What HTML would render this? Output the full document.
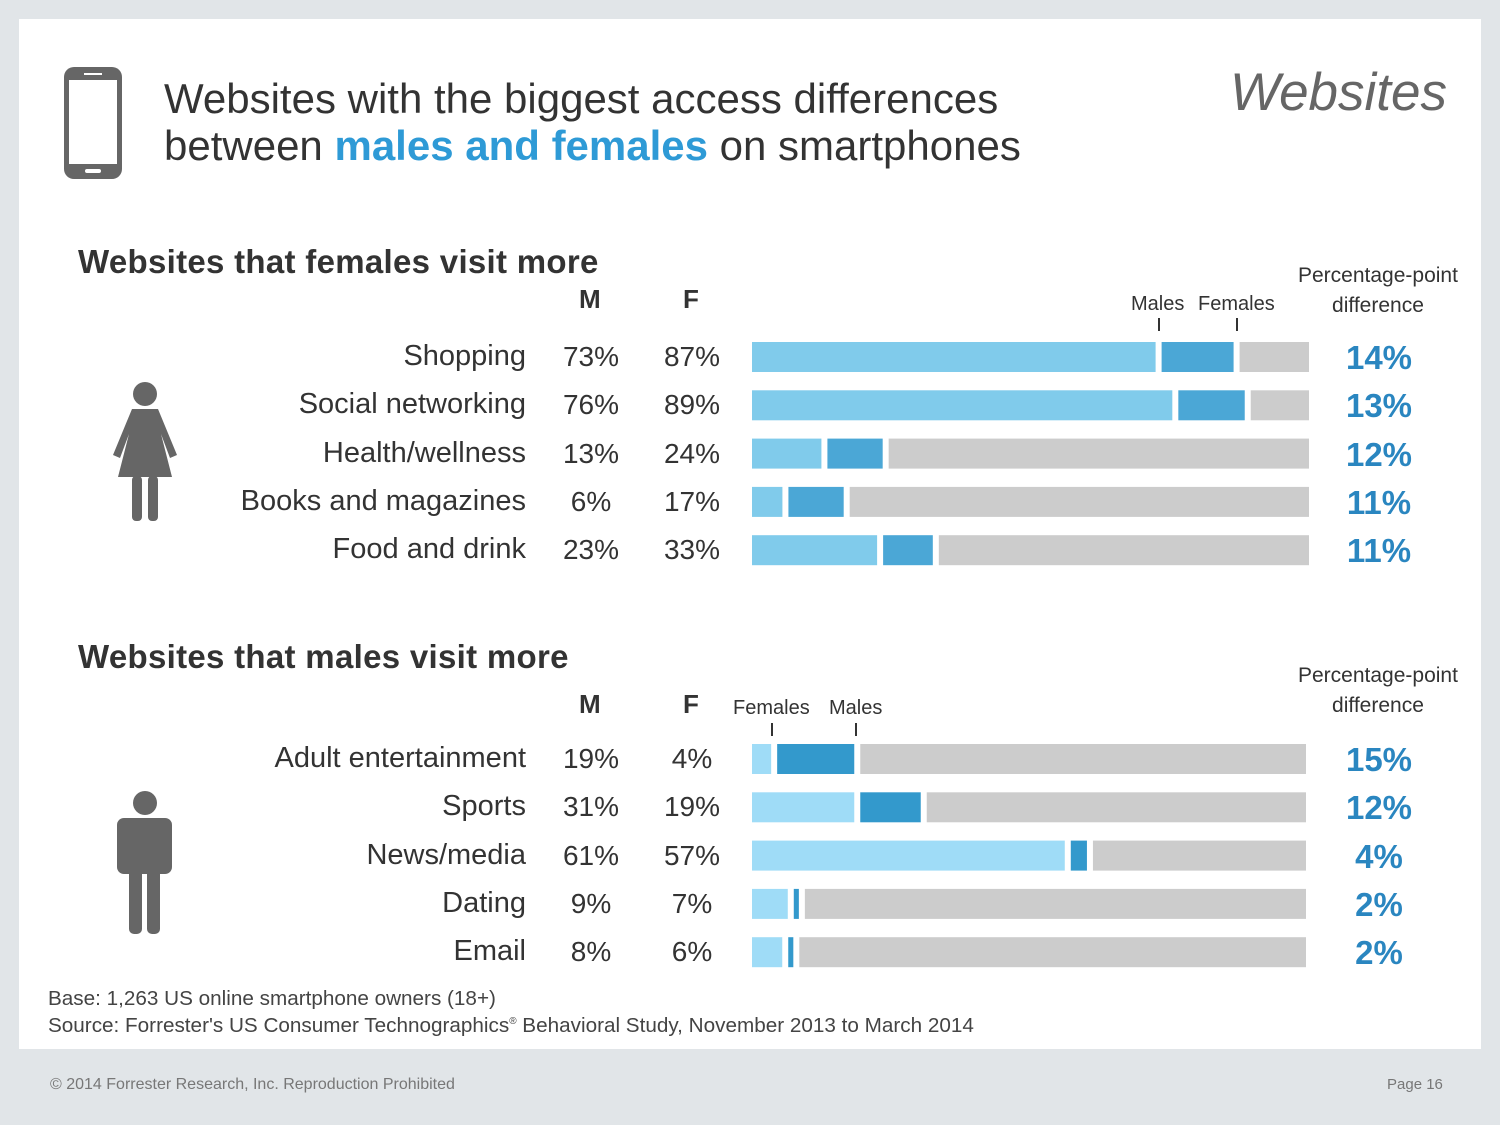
<!DOCTYPE html>
<html><head><meta charset="utf-8">
<style>
body{margin:0;width:1500px;height:1125px;background:#e1e5e8;font-family:"Liberation Sans",Arial,sans-serif;position:relative;overflow:hidden}
#card{position:absolute;left:19px;top:19px;width:1462px;height:1030px;background:#fff}
.t{position:absolute;white-space:nowrap;color:#333}
</style></head><body>
<div id="card"></div>
<svg width="1500" height="1125" style="position:absolute;left:0;top:0">
<g>
<rect x="64" y="67" width="58" height="112" rx="10" fill="#666"/>
<rect x="69" y="80" width="48" height="84" fill="#fff"/>
<rect x="84" y="73" width="18" height="2" fill="#fff"/>
<rect x="85" y="169" width="16" height="4" rx="2" fill="#fff"/>
</g>
<g fill="#666">
<circle cx="145" cy="394" r="12"/>
<path d="M132 409 L158 409 L177 455 L170 458 L161 434 L172 477 L118 477 L129 434 L120 458 L113 455 Z"/>
<rect x="132" y="476" width="10" height="45" rx="4"/><rect x="148" y="476" width="10" height="45" rx="4"/>
</g>
<g fill="#666">
<circle cx="145" cy="803" r="12"/>
<rect x="117" y="818" width="55" height="56" rx="7"/>
<rect x="129" y="860" width="13" height="74" rx="5"/><rect x="147" y="860" width="13" height="74" rx="5"/>
</g>
<g id="bars"></g>
<g fill="#333">
<rect x="1158" y="318" width="2" height="13"/><rect x="1236" y="318" width="2" height="13"/>
<rect x="771" y="723" width="2" height="13"/><rect x="855" y="723" width="2" height="13"/>
</g>
</svg>
<div class="t" style="left:164px;top:75px;font-size:42px;line-height:47px;color:#333">Websites with the biggest access differences<br>between <b style="color:#2e9ad6;font-weight:bold">males and females</b> on smartphones</div>
<div class="t" style="left:1230px;top:62px;font-size:53px;font-style:italic;color:#666">Websites</div>
<div class="t" style="left:78px;top:243px;font-size:33px;font-weight:bold;letter-spacing:0.3px">Websites that females visit more</div>
<div class="t" style="left:78px;top:638px;font-size:33px;font-weight:bold;letter-spacing:0.3px">Websites that males visit more</div>
<div class="t" style="left:579px;top:284px;font-size:26px;font-weight:bold">M</div>
<div class="t" style="left:683px;top:284px;font-size:26px;font-weight:bold">F</div>
<div class="t" style="left:579px;top:689px;font-size:26px;font-weight:bold">M</div>
<div class="t" style="left:683px;top:689px;font-size:26px;font-weight:bold">F</div>
<div class="t" style="left:1131px;top:293px;font-size:20px">Males</div>
<div class="t" style="left:1198px;top:293px;font-size:20px">Females</div>
<div class="t" style="left:733px;top:697px;font-size:20px">Females</div>
<div class="t" style="left:829px;top:697px;font-size:20px">Males</div>
<div class="t" style="left:1298px;top:261px;font-size:21px;line-height:30px;text-align:center">Percentage-point<br>difference</div>
<div class="t" style="left:1298px;top:661px;font-size:21px;line-height:30px;text-align:center">Percentage-point<br>difference</div>
<div id="labels"></div>
<div class="t" style="left:48px;top:985px;font-size:20.7px;line-height:27px;color:#444">Base: 1,263 US online smartphone owners (18+)<br>Source: Forrester's US Consumer Technographics<sup style="font-size:10px;line-height:0">®</sup> Behavioral Study, November 2013 to March 2014</div>
<div class="t" style="left:50px;top:1076px;font-size:16px;color:#777">© 2014 Forrester Research, Inc. Reproduction Prohibited</div>
<div class="t" style="left:1387px;top:1076px;font-size:15px;color:#777">Page 16</div>
<script>
const femCats=["Shopping","Social networking","Health/wellness","Books and magazines","Food and drink"];
const femM=[73,76,13,6,23];
const femF=[87,89,24,17,33];
const femDiff=[14,13,12,11,11];
const maleCats=["Adult entertainment","Sports","News/media","Dating","Email"];
const maleM=[19,31,61,9,8];
const maleF=[4,19,57,7,6];
const maleDiff=[15,12,4,2,2];
const NS="http://www.w3.org/2000/svg";
const g=document.getElementById('bars'),L=document.getElementById('labels');
function rect(x,y,w,h,c,n){const r=document.createElementNS(NS,'rect');r.setAttribute('x',x);r.setAttribute('y',y);r.setAttribute('width',Math.max(0,w));r.setAttribute('height',h);r.setAttribute('fill',c);


g.appendChild(r);}
function txt(s,x,y,st,n,right){const d=document.createElement('div');d.className='t';d.textContent=s;d.style.cssText=st+';top:'+y+'px;'+(right?'right:'+(1500-x)+'px':'left:'+x+'px');


L.appendChild(d);}
function section(cats,lo,hi,diff,x0,W,y0,step,c1,c2,loV,hiV){
 const sx=v=>x0+v/100*W;
 cats.forEach((c,i)=>{const y=y0+i*step;const a=sx(lo[i]),b=sx(hi[i]),gap=3;
  rect(x0,y,a-gap-x0,30,c1,'bar-low-'+i);
  rect(a+gap,y,b-gap-a-gap,30,c2,'bar-diff-'+i);
  rect(b+gap,y,x0+W-b-gap,30,'#cccccc','bar-rest-'+i);
  txt(c,526,y-2,'font-size:29px;color:#333','category-label',true);
  txt(loV[i]+'%',591,y-1,'font-size:28px;transform:translateX(-50%)','m-value');
  txt(hiV[i]+'%',692,y-1,'font-size:28px;transform:translateX(-50%)','f-value');
  txt(diff[i]+'%',1379,y-3,'font-size:33px;font-weight:bold;color:#2a86c0;transform:translateX(-50%)','difference-value');
 });}
section(femCats,femM,femF,femDiff,752,557,342,48.3,'#80cbeb','#4ba7d6',femM,femF);
section(maleCats,maleF,maleM,maleDiff,752,554,744,48.3,'#9fdcf7','#3399cc',maleM,maleF);
</script>
</body></html>
